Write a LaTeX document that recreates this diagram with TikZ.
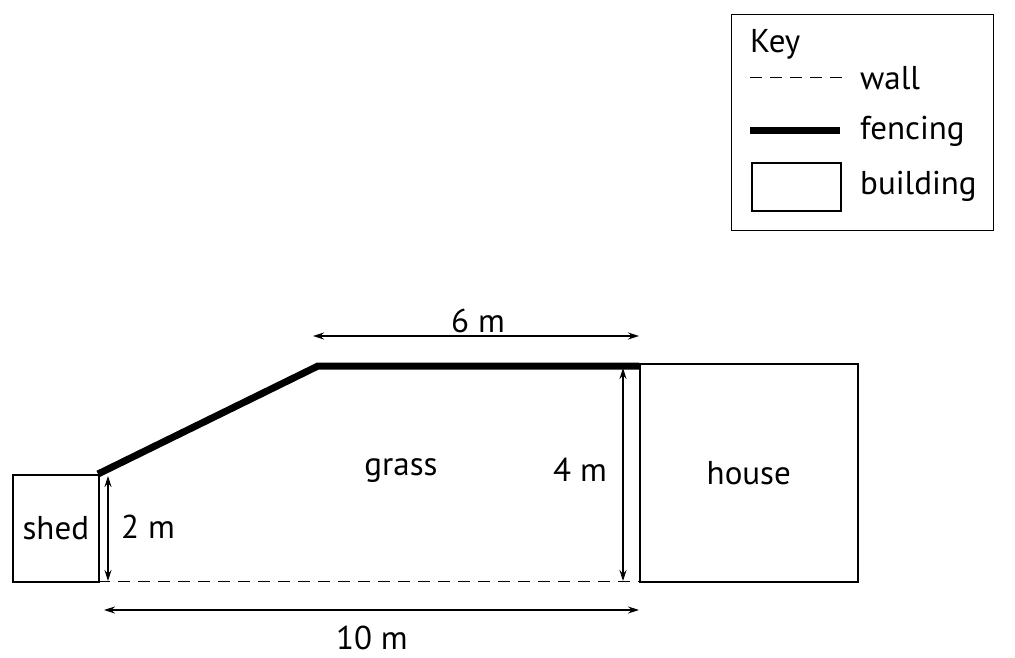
\documentclass[tikz,border=0pt]{standalone}
\usepackage{fontspec}
\setmainfont{PT Sans}
\usetikzlibrary{arrows.meta}
\begin{document}
\begin{tikzpicture}[x=1pt,y=-1pt,
  lbl/.style={font=\fontsize{33}{38}\selectfont,inner sep=0pt},
  bld/.style={draw,line width=1.6pt},
  fence/.style={line width=7pt},
  wall/.style={line width=1pt,dash pattern=on 12pt off 8pt},
  dim/.style={line width=1.2pt,{Stealth[length=11pt,width=7pt]}-{Stealth[length=11pt,width=7pt]}}]
\useasboundingbox (0,0) rectangle (1015,658);
% key
\node[draw,line width=1.2pt,minimum width=262pt,minimum height=216pt,anchor=north west,inner sep=0pt] (key) at (731,14) {};
\node[lbl,anchor=west] (keyt) at (750,44) {Key};
\coordinate (kw1) at (750,78); \coordinate (kw2) at (845,78);
\draw[wall] (kw1) -- (kw2);
\node[lbl,anchor=west] (kwall) at (860,78) {wall};
\coordinate (kf1) at (750,131); \coordinate (kf2) at (840,131);
\draw[fence] (kf1) -- (kf2);
\node[lbl,anchor=west] (kfen) at (860,131) {fencing};
\node[bld,minimum width=89pt,minimum height=48pt,anchor=north west,inner sep=0pt] (kb) at (751,162) {};
\node[lbl,anchor=west] (kbl) at (860,186) {building};
% buildings
\node[bld,minimum width=86pt,minimum height=107pt,anchor=north west,inner sep=0pt] (shed) at (12,474) {};
\node[lbl] at (shed.center) {shed};
\node[bld,minimum width=218pt,minimum height=218pt,anchor=north west,inner sep=0pt] (house) at (639,363) {};
\node[lbl] at (house.center) {house};
% fence and wall
\coordinate (f1) at (98,474); \coordinate (f2) at (318,366); \coordinate (f3) at (639,366);
\draw[fence,line join=miter] (f1) -- (f2) -- (f3);
\coordinate (w1) at (98,581); \coordinate (w2) at (639,581);
\draw[wall] (w1) -- (w2);
\node[lbl] (grass) at (401,471) {grass};
% dimensions
\coordinate (a1) at (108,476); \coordinate (a2) at (108,581);
\draw[dim] (a1) -- (a2);
\node[lbl] at (148,527) {2 m};
\coordinate (b1) at (623,368); \coordinate (b2) at (623,581);
\draw[dim] (b1) -- (b2);
\node[lbl] at (580,470) {4 m};
\coordinate (c1) at (313,336); \coordinate (c2) at (639,336);
\draw[dim] (c1) -- (c2);
\node[lbl] at (478,321) {6 m};
\coordinate (d1) at (104,610); \coordinate (d2) at (639,610);
\draw[dim] (d1) -- (d2);
\node[lbl] at (372,638) {10 m};
\end{tikzpicture}
\end{document}
